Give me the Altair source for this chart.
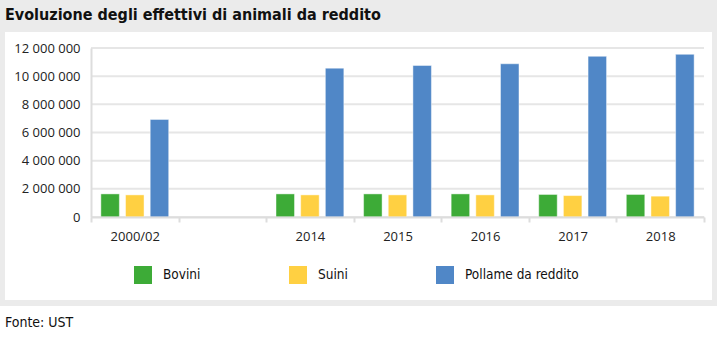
import altair as alt
import pandas as pd

categories = ["2000/02", " ", "2014", "2015", "2016", "2017", "2018"]
years = ["2000/02", "2014", "2015", "2016", "2017", "2018"]
series = ["Bovini", "Suini", "Pollame da reddito"]
bovini = [1640000, 1640000, 1640000, 1640000, 1600000, 1600000]
suini = [1570000, 1570000, 1570000, 1570000, 1520000, 1480000]
pollame = [6930000, 10570000, 10760000, 10880000, 11410000, 11550000]
colors = ["#3dab37", "#ffd042", "#5087c7"]
y_ticks = [0, 2000000, 4000000, 6000000, 8000000, 10000000, 12000000]
title_text = ["Evoluzione degli effettivi di animali da reddito"]
source_text = ["Fonte: UST"]

rows = []
for name, vals in zip(series, [bovini, suini, pollame]):
    for yr, v in zip(years, vals):
        rows.append({"cat": yr, "series": name, "value": v})
df = pd.DataFrame(rows)
ticks_df = pd.DataFrame({"value": y_ticks})
one = pd.DataFrame({"k": [0]})

W, H = 613, 169
PL, PT = 91, 48
PR = 717 - PL - W
PB = 337 - PT - H

cond_font = "DejaVu Sans Condensed"
axis_font = "Open Sans"

yscale = alt.Scale(domain=[0, 12000000], nice=False)
yaxis = alt.Axis(title=None, values=y_ticks, grid=False, ticks=False,
                 labelFont=axis_font, labelFontSize=13, labelColor="#222222",
                 labelPadding=11, domainColor="#dddddd", domainWidth=2,
                 labelExpr="replace(format(datum.value, ','), /,/g, ' ')",
                 zindex=1)

bg = alt.Chart(one).mark_rect(color="#ebebeb").encode(
    x=alt.value(-PL), x2=alt.value(717 - PL), y=alt.value(-PT), y2=alt.value(306 - PT)
)
panel = alt.Chart(one).mark_rect(color="white").encode(
    x=alt.value(5 - PL), x2=alt.value(712 - PL), y=alt.value(32 - PT), y2=alt.value(300 - PT)
)
grid = alt.Chart(ticks_df).mark_rule(color="#e6e6e6", strokeWidth=2).encode(
    y=alt.Y("value:Q", scale=yscale, axis=yaxis),
    x=alt.value(0), x2=alt.value(W),
)

bars = alt.Chart(df).mark_bar(stroke="white", strokeWidth=1, strokeOpacity=0.45).encode(
    x=alt.X("cat:N", sort=categories,
            scale=alt.Scale(domain=categories, paddingInner=0, paddingOuter=0),
            axis=alt.Axis(title=None, labelAngle=0, labelFont=axis_font, labelFontSize=13,
                          labelColor="#222222", domainColor="#dddddd", domainWidth=2,
                          tickColor="#dddddd", tickWidth=2, tickSize=5, tickBand="extent",
                          labelPadding=8, grid=False, zindex=1)),
    xOffset=alt.XOffset("series:N", sort=series,
                        scale=alt.Scale(domain=series, paddingInner=0.25, paddingOuter=0.4)),
    y=alt.Y("value:Q", scale=yscale, axis=yaxis),
    color=alt.Color("series:N", sort=series,
                    scale=alt.Scale(domain=series, range=colors),
                    legend=alt.Legend(title=None, orient="none", legendX=43, legendY=218,
                                      direction="horizontal", symbolType="square",
                                      symbolSize=324, symbolStrokeWidth=0, symbolOpacity=1,
                                      labelFont=cond_font, labelFontSize=13.5,
                                      labelColor="#111111", labelOffset=11,
                                      columnPadding=88)),
)

title = alt.Chart(pd.DataFrame({"t": title_text})).mark_text(
    align="left", baseline="middle", font=cond_font, fontSize=16, fontWeight="bold",
    color="#111111"
).encode(text="t:N", x=alt.value(5 - PL), y=alt.value(15 - PT))

source = alt.Chart(pd.DataFrame({"t": source_text})).mark_text(
    align="left", baseline="middle", font=cond_font, fontSize=14, color="#111111"
).encode(text="t:N", x=alt.value(5 - PL), y=alt.value(323 - PT))

chart = alt.layer(bg, panel, grid, bars, title, source).properties(
    width=W, height=H,
    padding={"left": PL, "top": PT, "right": PR, "bottom": PB},
    autosize=alt.AutoSizeParams(type="none"),
    background="white",
).configure_view(stroke=None)

chart.save("out.html", embed_options={"renderer": "svg", "actions": False})
